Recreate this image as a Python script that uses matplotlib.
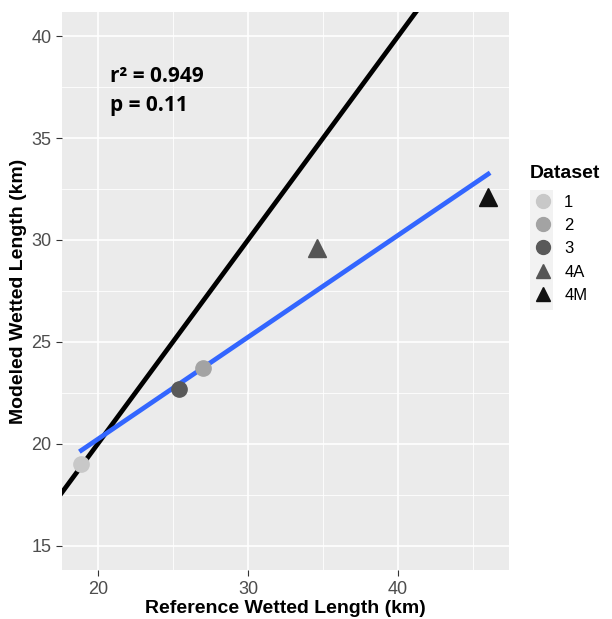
# Modeled vs reference wetted length

import numpy as np
import matplotlib.pyplot as plt
from matplotlib.lines import Line2D
from matplotlib.patches import Rectangle

plt.rcParams['font.family'] = ['Liberation Sans', 'DejaVu Sans']

# data
datasets = ['1', '2', '3', '4A', '4M']
ref_len = [18.9, 27.0, 25.4, 34.6, 46.0]
mod_len = [19.0, 23.7, 22.7, 29.6, 32.1]
markers = ['o', 'o', 'o', '^', '^']
colors = ['#C8C8C8', '#A3A3A3', '#595959', '#555555', '#111111']

fig = plt.figure(figsize=(6.12, 6.19), dpi=100)
ax = fig.add_axes([0.101, 0.079, 0.731, 0.902])
ax.set_facecolor('#EBEBEB')

ax.set_xlim(17.6, 47.4)
ax.set_ylim(13.8, 41.2)
ax.set_xticks([20, 30, 40])
ax.set_yticks([15, 20, 25, 30, 35, 40])
ax.set_xticks([25, 35, 45], minor=True)
ax.set_yticks([17.5, 22.5, 27.5, 32.5, 37.5], minor=True)
ax.grid(which='major', color='white', lw=1.2)
ax.grid(which='minor', color='white', lw=0.6)
ax.set_axisbelow(True)
for s in ax.spines.values():
    s.set_visible(False)
ax.tick_params(which='major', length=4, color='#333333', labelsize=13, labelcolor='#4D4D4D')
ax.tick_params(which='minor', length=0)

# 1:1 line
xx = np.array([10, 50])
ax.plot(xx, xx, color='black', lw=3.4, zorder=2)

# linear fit
slope, icpt = np.polyfit(ref_len, mod_len, 1)
fx = np.array([min(ref_len), max(ref_len)])
ax.plot(fx, slope * fx + icpt, color='#3366FF', lw=3.4, zorder=3)

for x, y, m, c in zip(ref_len, mod_len, markers, colors):
    ax.plot(x, y, marker=m, color=c, ms=11 if m == 'o' else 12.5, ls='none', zorder=4)

ax.text(0.107, 0.875, 'r² = 0.949', transform=ax.transAxes, fontsize=15,
        fontweight='bold', family=['Open Sans', 'DejaVu Sans'])
ax.text(0.107, 0.822, 'p = 0.11', transform=ax.transAxes, fontsize=15,
        fontweight='bold', family=['Open Sans', 'DejaVu Sans'])

ax.set_xlabel('Reference Wetted Length (km)', fontsize=14, fontweight='bold', labelpad=2)
ax.set_ylabel('Modeled Wetted Length (km)', fontsize=14, fontweight='bold', labelpad=3)

# legend: title, grey key background, entries
fig.text(0.866, 0.7205, 'Dataset', fontsize=14, fontweight='bold', va='center', ha='left')
fig.patches.append(Rectangle((0.866, 0.499), 0.038, 0.194, transform=fig.transFigure,
                             facecolor='#F2F2F2', edgecolor='none', zorder=0))

handles = [Line2D([], [], marker=m, color=c, ls='none', ms=10)
           for m, c in zip(markers, colors)]
leg = fig.legend(handles, datasets, loc='upper left',
                 bbox_to_anchor=(0.843, 0.71), frameon=False, fontsize=12,
                 handletextpad=0.6, labelspacing=0.5, handlelength=1.4)

fig.savefig('out.png', dpi=100)
